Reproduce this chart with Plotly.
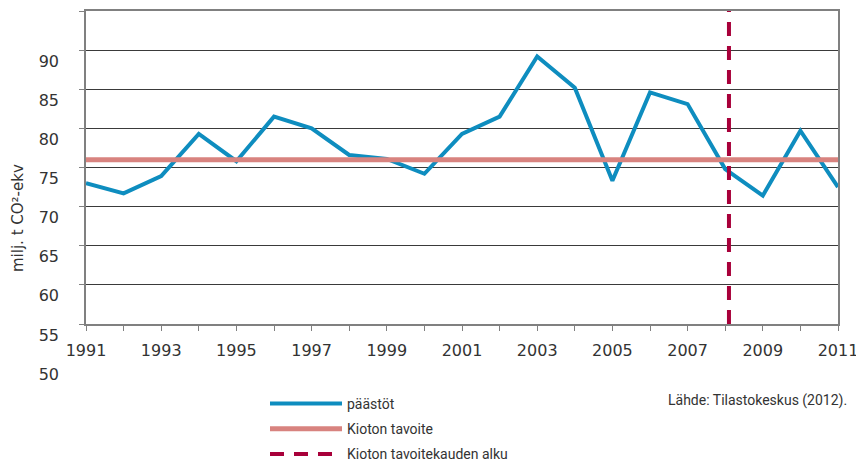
import plotly.graph_objects as go

years = list(range(1991, 2012))
emissions = [73.0, 71.7, 73.9, 79.3, 75.8, 81.5, 80.0, 76.6, 76.1, 74.2,
             79.3, 81.5, 89.2, 85.2, 73.3, 84.6, 83.1, 74.8, 71.4, 79.7, 72.5]
kyoto_target = 76.0
period_start = 2008.1
y_range = [55, 95]
y_grid = [55, 60, 65, 70, 75, 80, 85, 90, 95]
y_labels = [50, 55, 60, 65, 70, 75, 80, 85, 90]
x_labels = list(range(1991, 2012, 2))

BLUE = "#0e8dbf"
SALMON = "#d8837f"
CRIMSON = "#a8003a"
TXT = "#333333"

W, H = 856, 462
ml, mt = 86, 11
mr = 856 - 838
mb = 80
plot_h = H - mt - mb
plot_w = W - ml - mr
bottom_px = 324
px_per_unit = (324 - 11) / (y_range[1] - y_range[0])
main_bottom_frac = (H - mb - bottom_px) / plot_h
y2_low = y_range[1] - plot_h / px_per_unit


def px_x(sx):
    return (sx - ml) / plot_w


def px_y(sy):
    return (H - mb - sy) / plot_h


fig = go.Figure()
fig.add_trace(go.Scatter(x=years, y=emissions, mode="lines", name="päästöt",
                         line=dict(color=BLUE, width=4), legendgroup="a"))
fig.add_trace(go.Scatter(x=[years[0], years[-1]], y=[kyoto_target, kyoto_target],
                         mode="lines", name="Kioton tavoite",
                         line=dict(color=SALMON, width=5), legendgroup="b"))
fig.add_trace(go.Scatter(x=[period_start, period_start], y=y_range, mode="lines",
                         name="Kioton tavoitekauden alku",
                         line=dict(color=CRIMSON, width=4, dash="14px,10px"),
                         legendgroup="c"))
# invisible trace to carry the tick-label axis
fig.add_trace(go.Scatter(x=[years[0]], y=[y_labels[0]], mode="markers",
                         marker=dict(opacity=0), showlegend=False,
                         hoverinfo="skip", xaxis="x", yaxis="y2"))

fig.update_layout(
    width=W, height=H,
    margin=dict(l=ml, r=mr, t=mt, b=mb, autoexpand=False),
    paper_bgcolor="white", plot_bgcolor="rgba(0,0,0,0)",
    font=dict(family="DejaVu Sans", color=TXT),
    xaxis=dict(range=[years[0], years[-1]], tickvals=years,
               ticktext=[str(y) if y in x_labels else "" for y in years],
               showgrid=False, showline=True, linecolor="#808080", linewidth=2,
               mirror=True, ticks="outside", ticklen=5, tickcolor="#808080",
               ticklabelstandoff=6, ticklabeloverflow="allow",
               tickfont=dict(size=16, color=TXT), anchor="y", zeroline=False,
               automargin=False),
    yaxis=dict(domain=[main_bottom_frac, 1], range=y_range, tickvals=y_grid,
               showticklabels=False, showgrid=True, gridcolor="#3a3a3a",
               gridwidth=1, showline=True, linecolor="#808080", linewidth=2,
               mirror=True, ticks="outside", ticklen=5, tickcolor="#808080",
               zeroline=False, automargin=False),
    yaxis2=dict(domain=[0, 1], range=[y2_low, y_range[1]], tickvals=y_labels,
                ticktext=[str(v) for v in y_labels], showgrid=False,
                showline=False, zeroline=False, ticks="", anchor="x",
                ticklabelshift=11, ticklabelstandoff=26, automargin=False,
                ticklabeloverflow="allow",
                tickfont=dict(size=16, color=TXT)),
    legend=dict(x=px_x(265), y=px_y(388), xanchor="left", yanchor="top",
                font=dict(family="Roboto", size=14, color=TXT),
                tracegroupgap=4, traceorder="grouped", itemwidth=72,
                bgcolor="rgba(0,0,0,0)"),
    showlegend=True,
    annotations=[
        dict(text="milj. t CO²-ekv", textangle=-90,
             x=px_x(18), y=px_y(218),
             xref="paper", yref="paper", xanchor="center", yanchor="middle",
             showarrow=False, font=dict(size=15, color=TXT)),
        dict(text="Lähde: Tilastokeskus (2012).", x=px_x(849),
             y=px_y(401), xref="paper", yref="paper",
             xanchor="right", yanchor="middle", showarrow=False,
             font=dict(family="Roboto", size=14, color=TXT)),
    ],
)

fig.write_html("out.html", config={"displayModeBar": False},
               post_script="document.body.style.margin='0';"
                           "document.body.style.overflow='hidden';")
